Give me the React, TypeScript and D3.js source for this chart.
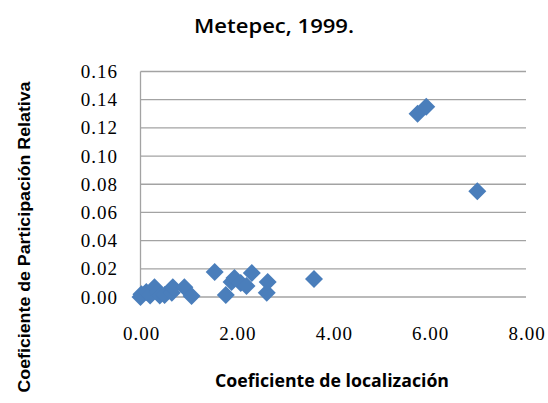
import React, { useEffect, useRef } from 'react';
import * as d3 from 'd3';

// Coeficiente de localización vs Coeficiente de Participación Relativa
const xValues = [0, 0.02, 0.12, 0.2, 0.29, 0.35, 0.4, 0.5, 0.65, 0.67, 0.91, 1.06, 1.54, 1.77, 1.89, 1.95, 2.08, 2.2, 2.31, 2.62, 2.64, 3.6, 5.75, 5.93, 6.99];
const yValues = [0, 0.002, 0.0035, 0.001, 0.007, 0.0035, 0.001, 0.0015, 0.003, 0.007, 0.007, 0.0007, 0.0177, 0.0014, 0.0106, 0.0135, 0.01, 0.0078, 0.017, 0.003, 0.0106, 0.0127, 0.13, 0.135, 0.075];
const xTicks = [0, 2, 4, 6, 8];
const yTicks = [0, 0.02, 0.04, 0.06, 0.08, 0.1, 0.12, 0.14, 0.16];

const title = 'Metepec, 1999.';
const xTitle = 'Coeficiente de localización';
const yTitle = 'Coeficiente de Participación Relativa';

const W = 548;
const H = 403;

const App = () => {
  const ref = useRef<SVGSVGElement>(null);

  useEffect(() => {
    const svg = d3.select(ref.current);
    svg.selectAll('*').remove();

    const x = d3.scaleLinear().domain([0, 8]).range([140.5, 526]);
    const y = d3.scaleLinear().domain([0, 0.16]).range([297, 71.5]);

    // gridlines
    svg.append('g')
      .selectAll('line')
      .data(yTicks)
      .join('line')
      .attr('x1', x(0))
      .attr('x2', x(8))
      .attr('y1', (d) => y(d))
      .attr('y2', (d) => y(d))
      .attr('stroke', '#a3a3a3')
      .attr('stroke-width', 1.3);

    svg.append('line')
      .attr('x1', x(0))
      .attr('x2', x(0))
      .attr('y1', y(0.16))
      .attr('y2', y(0))
      .attr('stroke', '#a3a3a3')
      .attr('stroke-width', 1.3);

    // tick labels
    svg.append('g')
      .selectAll('text')
      .data(yTicks)
      .join('text')
      .attr('x', 118)
      .attr('y', (d) => y(d))
      .attr('text-anchor', 'end')
      .attr('dominant-baseline', 'central')
      .attr('font-family', '"Liberation Serif", serif')
      .attr('font-size', 19)
      .attr('letter-spacing', 1)
      .attr('fill', '#000')
      .text((d) => d3.format('.2f')(d));

    svg.append('g')
      .selectAll('text')
      .data(xTicks)
      .join('text')
      .attr('x', (d) => x(d) + 1)
      .attr('y', 333)
      .attr('text-anchor', 'middle')
      .attr('dominant-baseline', 'central')
      .attr('font-family', '"Liberation Serif", serif')
      .attr('font-size', 19)
      .attr('letter-spacing', 1)
      .attr('fill', '#000')
      .text((d) => d3.format('.2f')(d));

    // points
    const pts = xValues.map((v, i) => [v, yValues[i]]);
    const r = 9;
    svg.append('g')
      .selectAll('path')
      .data(pts)
      .join('path')
      .attr('transform', (d) => `translate(${x(d[0])},${y(d[1])})`)
      .attr('d', `M0,${-r}L${r},0L0,${r}L${-r},0Z`)
      .attr('fill', '#4a7ebb');

    // titles
    svg.append('text')
      .attr('x', 274)
      .attr('y', 33)
      .attr('text-anchor', 'middle')
      .attr('font-family', '"Open Sans", sans-serif')
      .attr('font-weight', 600)
      .attr('font-size', 20)
      .attr('textLength', 160)
      .attr('lengthAdjust', 'spacingAndGlyphs')
      .text(title);

    svg.append('text')
      .attr('x', 332)
      .attr('y', 387)
      .attr('text-anchor', 'middle')
      .attr('font-family', '"Open Sans", sans-serif')
      .attr('font-weight', 700)
      .attr('font-size', 17)
      .attr('textLength', 234)
      .attr('lengthAdjust', 'spacingAndGlyphs')
      .text(xTitle);

    svg.append('text')
      .attr('transform', 'translate(30,237) rotate(-90)')
      .attr('text-anchor', 'middle')
      .attr('font-family', '"Liberation Sans", sans-serif')
      .attr('font-weight', 700)
      .attr('font-size', 16)
      .attr('textLength', 311)
      .attr('lengthAdjust', 'spacingAndGlyphs')
      .text(yTitle);
  }, []);

  return (
    <div style={{ position: 'fixed', left: 0, top: 0 }}>
      <svg ref={ref} width={W} height={H} style={{ display: 'block', background: '#fff' }}></svg>
    </div>
  );
};

export default App;
